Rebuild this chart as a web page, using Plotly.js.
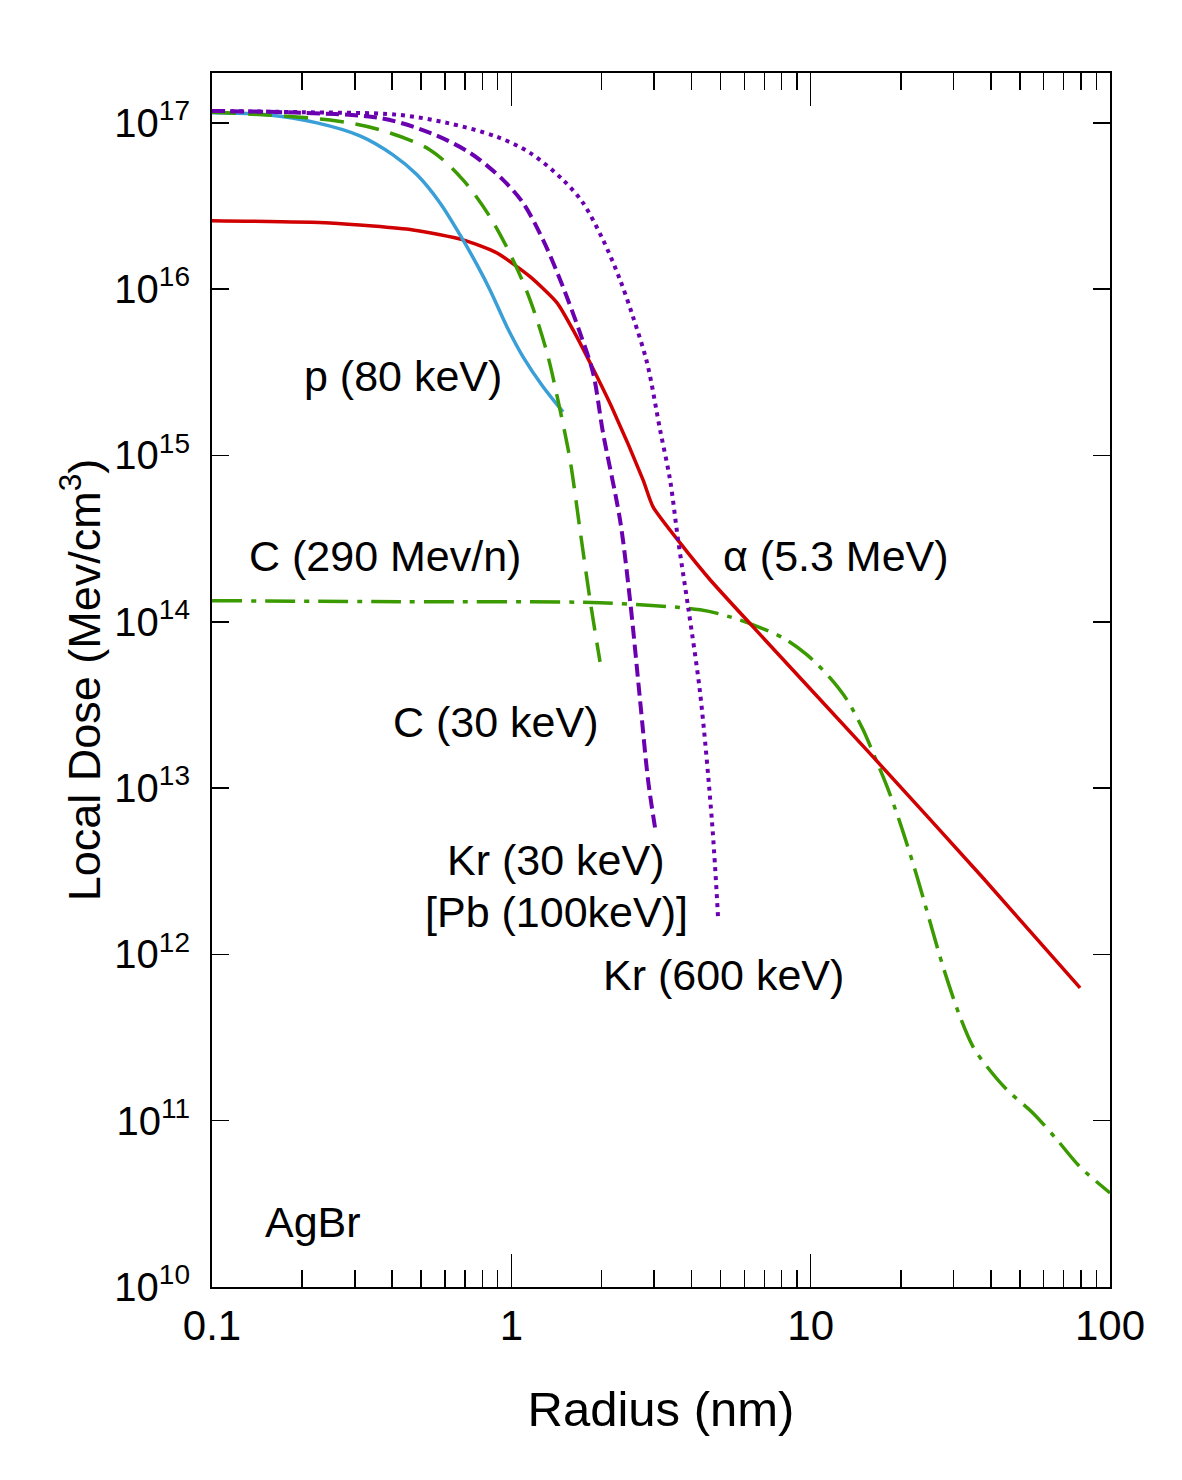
<!DOCTYPE html>
<html>
<head>
<meta charset="utf-8">
<script src="https://cdn.plot.ly/plotly-3.0.1.min.js"></script>
<style>html,body{margin:0;padding:0;background:#fff;}#chart{width:1182px;height:1480px;}</style>
</head>
<body>
<div id="chart"></div>
<script>
// ---- data (radius in nm, local dose in MeV/cm^3) ----
const pX = [0.1, 0.1527, 0.2243, 0.3121, 0.4024, 0.4841, 0.5778, 0.674, 0.7683, 0.8487, 0.9674, 1.0942, 1.2762, 1.4885];
const pY = [1.15e17, 1.12e17, 1.0e17, 8.35e16, 6.42e16, 4.87e16, 3.30e16, 2.12e16, 1.40e16, 9.90e15, 5.93e15, 3.92e15, 2.59e15, 1.83e15];

const alphaX = [0.1, 0.2478, 0.4693, 0.6895, 0.8959, 1.1548, 1.4215, 1.6075, 1.8323, 2.1863, 2.7542, 2.9744, 3.662, 4.6126, 6.4209, 16.16, 37.67, 79.45];
const alphaY = [2.58e16, 2.50e16, 2.27e16, 1.98e16, 1.65e16, 1.19e16, 8.28e15, 5.69e15, 3.61e15, 1.88e15, 7.13e14, 4.91e14, 2.98e14, 1.79e14, 9.32e13, 1.54e13, 2.88e12, 6.29e11];

const c30X = [0.1, 0.2478, 0.3641, 0.5352, 0.6895, 0.8487, 1.0132, 1.1548, 1.316, 1.4545, 1.571, 1.6962, 1.8323, 1.9783];
const c30Y = [1.16e17, 1.04e17, 9.08e16, 6.88e16, 4.54e16, 2.72e16, 1.50e16, 8.63e15, 4.14e15, 1.88e15, 9.41e14, 3.57e14, 1.35e14, 5.74e13];

const kr30X = [0.1, 0.1968, 0.3641, 0.5352, 0.7278, 0.9381, 1.0942, 1.2762, 1.4885, 1.6962, 1.875, 2.0245, 2.3075, 2.4922, 2.6915, 2.8625, 3.0207];
const kr30Y = [1.18e17, 1.15e17, 1.07e17, 8.71e16, 6.60e16, 4.54e16, 3.30e16, 1.98e16, 1.03e16, 5.46e15, 3.14e15, 1.37e15, 4.10e14, 1.35e14, 3.39e13, 1.12e13, 5.77e12];

const kr600X = [0.1, 0.1968, 0.415, 0.6097, 0.8959, 1.1548, 1.4885, 1.7359, 2.0245, 2.3075, 2.5502, 2.8405, 3.1393, 3.3904, 3.6059, 3.8949, 4.2718, 4.6843, 4.9051];
const kr600Y = [1.18e17, 1.16e17, 1.12e17, 1.0e17, 8.24e16, 6.60e16, 4.54e16, 3.30e16, 1.98e16, 1.14e16, 6.81e15, 3.61e15, 1.43e15, 7.13e14, 3.11e14, 1.23e14, 3.74e13, 6.18e12, 1.66e12];

const c290X = [0.1, 0.4247, 1.9783, 4.2718, 5.3791, 6.4209, 8.0898, 9.7275, 11.61, 13.23, 14.97, 16.16, 18.0, 19.89, 22.68, 27.7, 31.56, 34.88, 38.85, 45.32, 55.35, 66.59, 79.45, 100];
const c290Y = [1.34e14, 1.32e14, 1.30e14, 1.18e14, 1.07e14, 9.58e13, 8.00e13, 6.32e13, 4.60e13, 3.39e13, 2.24e13, 1.63e13, 1.02e13, 6.18e12, 2.92e12, 8.41e11, 4.21e11, 2.78e11, 2.11e11, 1.53e11, 1.11e11, 7.66e10, 5.27e10, 3.68e10];

const xTickVals = [0.1, 1, 10, 100];
const xTickText = ['0.1', '1', '10', '100'];
const xMinorVals = [0.2,0.3,0.4,0.5,0.6,0.7,0.8,0.9,2,3,4,5,6,7,8,9,20,30,40,50,60,70,80,90];
const yTickVals = [1e10, 1e11, 1e12, 1e13, 1e14, 1e15, 1e16, 1e17];
const yTickText = ['10<sup>10</sup>', '10<sup>11</sup>', '10<sup>12</sup>', '10<sup>13</sup>', '10<sup>14</sup>', '10<sup>15</sup>', '10<sup>16</sup>', '10<sup>17</sup>'];

const labels = ['p (80 keV)', 'C (290 Mev/n)', 'α (5.3 MeV)', 'C (30 keV)', 'Kr (30 keV)', '[Pb (100keV)]', 'Kr (600 keV)', 'AgBr'];

// ---- styling ----
const FONT = 'Liberation Sans, Arial, Helvetica, sans-serif';
const W = 3.5;
const SM = 0.9;

const traces = [
  {x: c290X, y: c290Y, mode: 'lines', line: {color: '#3a9a00', width: W, dash: '30px,9px,5px,9px', shape: 'spline', smoothing: SM}, name: 'C (290 Mev/n)'},
  {x: alphaX, y: alphaY, mode: 'lines', line: {color: '#d00000', width: W, shape: 'spline', smoothing: 0.6}, name: 'α (5.3 MeV)'},
  {x: pX, y: pY, mode: 'lines', line: {color: '#3a9fd6', width: W, shape: 'spline', smoothing: SM}, name: 'p (80 keV)'},
  {x: c30X, y: c30Y, mode: 'lines', line: {color: '#3a9a00', width: W, dash: '24px,12px', shape: 'spline', smoothing: SM}, name: 'C (30 keV)'},
  {x: kr30X, y: kr30Y, mode: 'lines', line: {color: '#6a00b0', width: W + 0.5, dash: '13px,6px', shape: 'spline', smoothing: SM}, name: 'Kr (30 keV)'},
  {x: kr600X, y: kr600Y, mode: 'lines', line: {color: '#6a00b0', width: W + 0.5, dash: '4px,5px', shape: 'spline', smoothing: SM}, name: 'Kr (600 keV)'}
];

function px2paper(px, py) { return [(px - 212) / 898, (1287 - py) / 1214]; }
const labelPos = [[403, 376], [385, 556], [836, 556], [496, 722], [555, 860], [556, 912], [723, 975], [313, 1222]];
const annotations = labels.map((t, i) => {
  const p = px2paper(labelPos[i][0], labelPos[i][1]);
  return {text: t, x: p[0], y: p[1], xref: 'paper', yref: 'paper', showarrow: false,
          xanchor: 'center', yanchor: 'middle', font: {family: FONT, size: 43, color: '#000'}};
});

const layout = {
  width: 1182, height: 1480,
  margin: {l: 212, r: 72, t: 73, b: 193},
  paper_bgcolor: '#fff', plot_bgcolor: '#fff',
  showlegend: false,
  font: {family: FONT, color: '#000'},
  xaxis: {
    type: 'log', range: [-1, 2],
    showgrid: false, zeroline: false,
    showline: true, linecolor: '#000', linewidth: 2, mirror: 'ticks',
    ticks: 'inside', ticklen: 33, tickwidth: 1.5, tickcolor: '#000',
    tickmode: 'array', tickvals: xTickVals, ticktext: xTickText,
    tickfont: {family: FONT, size: 42, color: '#000'},
    ticklabelstandoff: 1,
    minor: {tickmode: 'array', tickvals: xMinorVals, ticks: 'inside', ticklen: 17, tickwidth: 1.5, tickcolor: '#000', showgrid: false},
    title: {text: 'Radius (nm)', font: {family: FONT, size: 49, color: '#000'}, standoff: 43}
  },
  yaxis: {
    type: 'log', range: [10, 17.3],
    showgrid: false, zeroline: false,
    showline: true, linecolor: '#000', linewidth: 2, mirror: 'ticks',
    ticks: 'inside', ticklen: 17, tickwidth: 1.5, tickcolor: '#000',
    tickmode: 'array', tickvals: yTickVals, ticktext: yTickText,
    tickfont: {family: FONT, size: 40, color: '#000'},
    ticklabelstandoff: 12,
    title: {text: 'Local Dose (Mev/cm<sup>3</sup>)', font: {family: FONT, size: 45, color: '#000'}, standoff: 0}
  },
  annotations: annotations
};

Plotly.newPlot('chart', traces, layout, {staticPlot: true, displayModeBar: false});
</script>
</body>
</html>
